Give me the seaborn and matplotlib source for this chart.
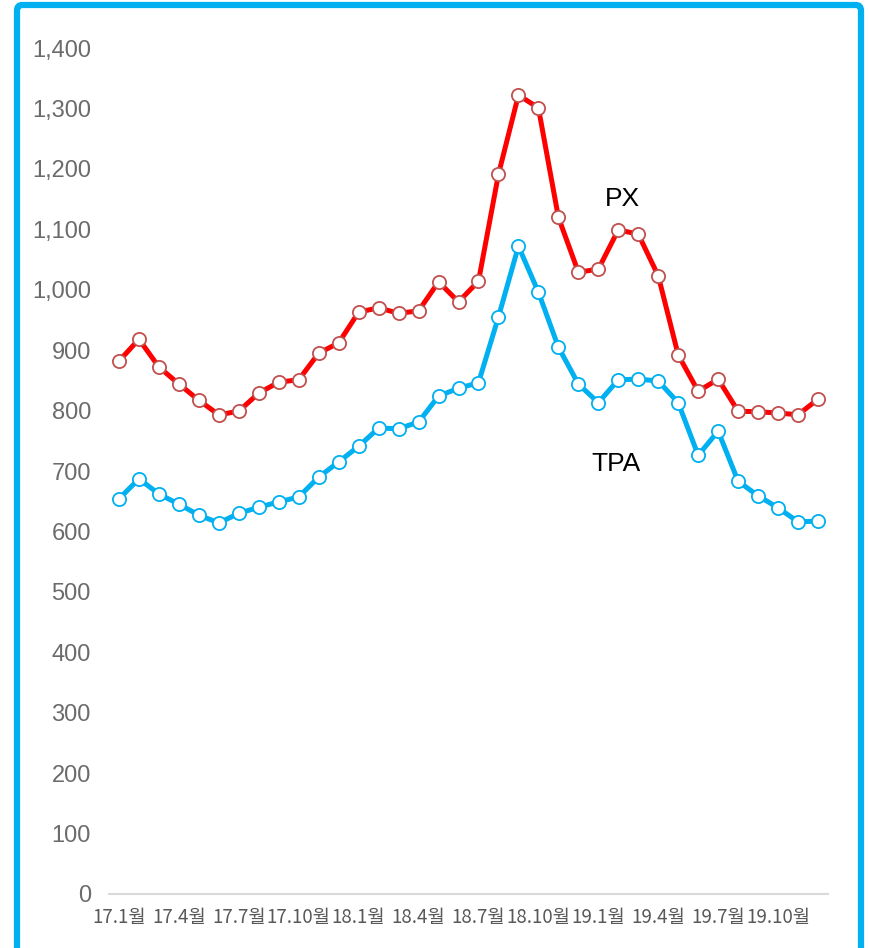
import numpy as np
import pandas as pd
import seaborn as sns
import matplotlib.pyplot as plt
from matplotlib.patches import FancyBboxPatch
from matplotlib.ticker import FuncFormatter

# ==============================================================================
# DADOS
# ==============================================================================
MESES = [f"{a}.{m}월" for a in (17, 18, 19) for m in range(1, 13)]

PX = [882, 918, 872, 844, 817, 793, 799, 829, 847, 851, 895, 912,
      963, 970, 961, 965, 1013, 980, 1014, 1191, 1322, 1301, 1120, 1029,
      1034, 1099, 1092, 1023, 892, 832, 852, 799, 798, 796, 793, 819]

TPA = [654, 687, 662, 645, 627, 614, 630, 640, 649, 657, 690, 715,
       741, 771, 770, 781, 824, 837, 846, 955, 1072, 996, 905, 844,
       813, 851, 852, 849, 813, 726, 766, 683, 659, 639, 616, 617]

Y_TICKS = list(range(0, 1401, 100))

# ==============================================================================
# FIGURA
# ==============================================================================
sns.set_theme(style="white")
plt.rcParams['font.family'] = ['Liberation Sans', 'Noto Sans CJK KR', 'DejaVu Sans']

df = pd.DataFrame({"idx": np.arange(len(MESES)), "mes": MESES, "PX": PX, "TPA": TPA})

fig = plt.figure(figsize=(8.69, 9.48), dpi=100)
ax = fig.add_axes([109 / 869, 54 / 948, (828 - 109) / 869, (894 - 48) / 948])

# moldura azul
frame = FancyBboxPatch((17 / 869, -0.05), (861 - 17) / 869, (948 - 5) / 948 + 0.05,
                       boxstyle="round,pad=0,rounding_size=0.006",
                       transform=fig.transFigure, fill=False,
                       edgecolor="#00B0F0", linewidth=4.5, zorder=0)
fig.patches.append(frame)

sns.lineplot(data=df, x="idx", y="PX", ax=ax, color="#FF0000", linewidth=3.6,
             marker="o", markersize=9.5, markerfacecolor="white",
             markeredgecolor="#C0504D", markeredgewidth=1.3)
sns.lineplot(data=df, x="idx", y="TPA", ax=ax, color="#00B0F0", linewidth=3.6,
             marker="o", markersize=9.5, markerfacecolor="white",
             markeredgecolor="#00B0F0", markeredgewidth=1.3)

ax.set_xlim(-0.5, len(MESES) - 0.5)
ax.set_ylim(0, 1400)
ax.set_yticks(Y_TICKS)
ax.yaxis.set_major_formatter(FuncFormatter(lambda v, p: f"{int(v):,}"))
ax.set_xticks(df["idx"][::3])
ax.set_xticklabels(df["mes"][::3], family=['Noto Sans CJK KR', 'DejaVu Sans'])

ax.tick_params(axis="y", labelsize=17, labelcolor="#6B6B6B", length=0, pad=13)
ax.tick_params(axis="x", labelsize=13.5, labelcolor="#595959", length=0, pad=9)
ax.set_xlabel("")
ax.set_ylabel("")

for s in ("top", "right", "left"):
    ax.spines[s].set_visible(False)
ax.spines["bottom"].set_color("#D9D9D9")
ax.spines["bottom"].set_linewidth(1.5)
ax.grid(False)

# rótulos das séries
ax.text(25.2, 1150, "PX", fontsize=19, color="black", ha="center", va="center")
ax.text(24.9, 712, "TPA", fontsize=19, color="black", ha="center", va="center")

fig.savefig("out.png", dpi=100)
